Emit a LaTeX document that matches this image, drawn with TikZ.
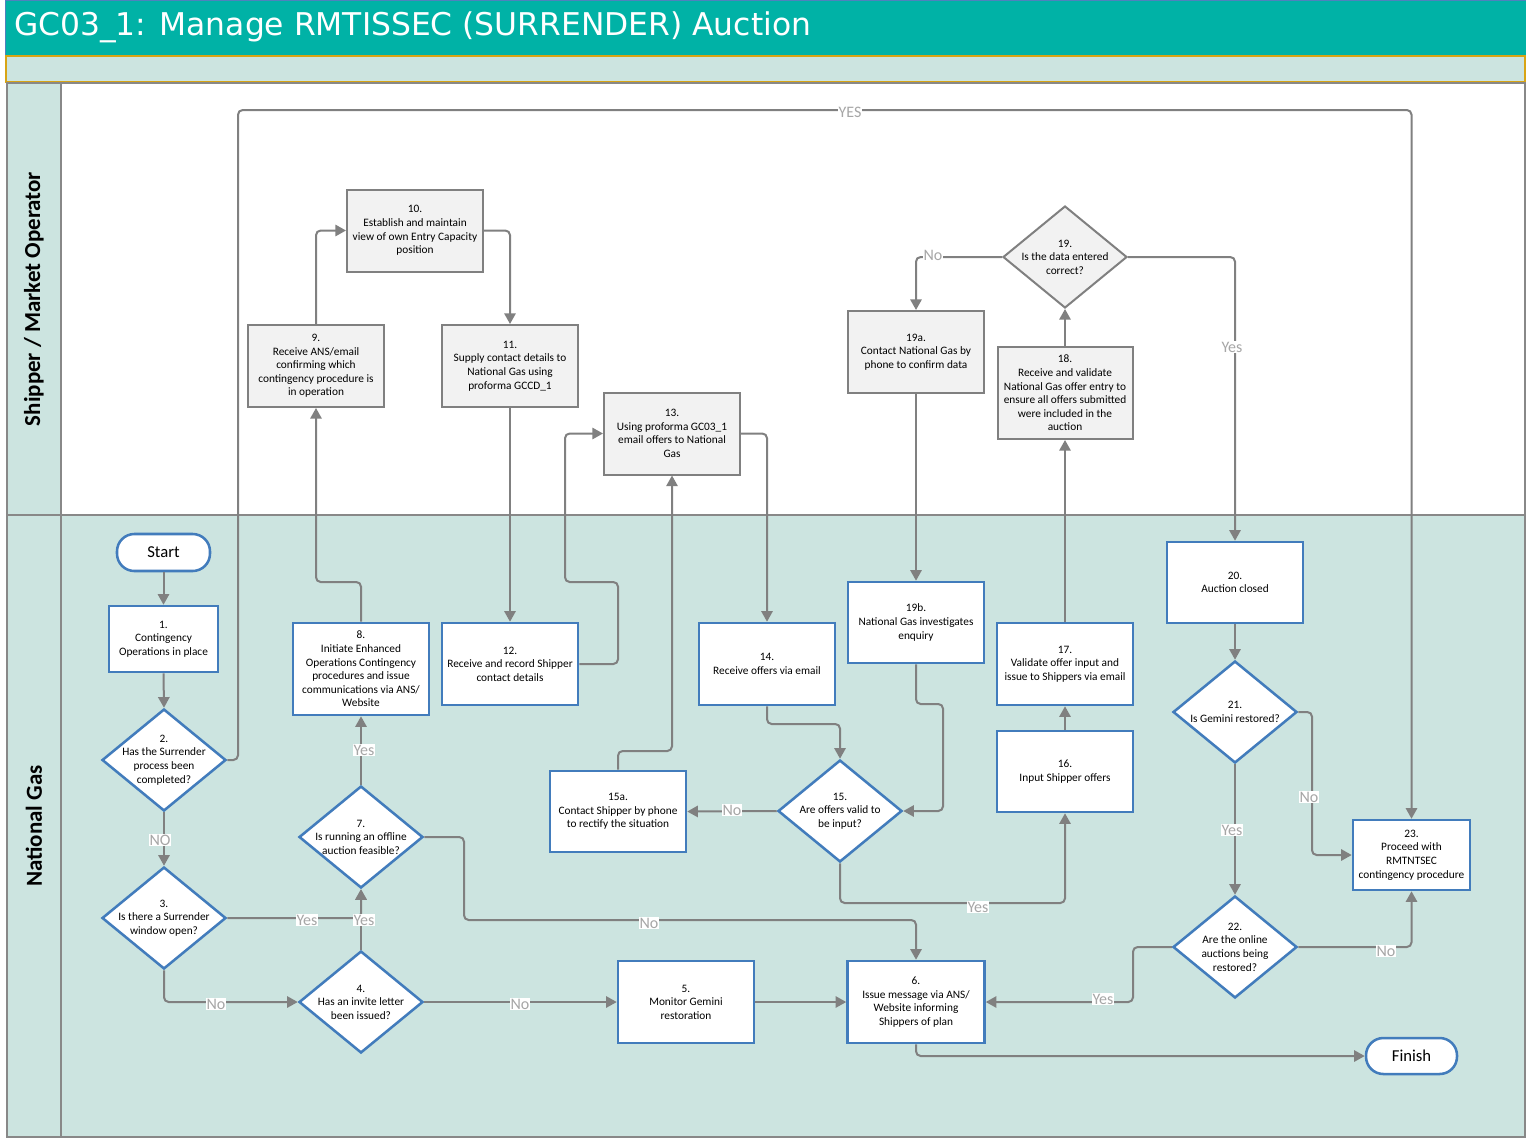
\documentclass[tikz,border=0pt]{standalone}
\usepackage{fontspec}
\setmainfont{Carlito}
\newfontfamily\titlefont{DejaVu Sans}
\usetikzlibrary{shapes.geometric,arrows.meta}
\definecolor{titleteal}{RGB}{0,178,166}
\definecolor{lightteal}{RGB}{204,228,224}
\definecolor{bandgold}{RGB}{216,164,20}
\definecolor{nblue}{RGB}{66,124,188}
\definecolor{lanegray}{RGB}{136,136,136}
\definecolor{linegray}{RGB}{128,128,128}
\definecolor{boxgray}{RGB}{242,242,242}
\definecolor{lblgray}{RGB}{166,166,166}
\definecolor{topblue}{RGB}{79,129,189}
\tikzset{
  txt/.style={font=\fontsize{8.5}{10.2}\selectfont, align=center},
  sbox/.style={txt, rectangle, draw=linegray, fill=boxgray, line width=1.5pt, inner sep=0pt, minimum width=102pt, minimum height=61.5pt},
  nbox/.style={txt, rectangle, draw=nblue, fill=white, line width=1.9pt, inner sep=0pt, minimum width=102pt, minimum height=61.5pt},
  ndia/.style={diamond, draw=nblue, fill=white, line width=1.9pt, inner sep=0pt, minimum width=93pt, minimum height=76.5pt},
  sdia/.style={diamond, draw=linegray, fill=boxgray, line width=1.5pt, inner sep=0pt, minimum width=93pt, minimum height=76.5pt},
  dtext/.style={txt, inner sep=0pt},
  term/.style={rectangle, rounded corners=13pt, draw=nblue, fill=white, line width=1.9pt, minimum width=69.75pt, minimum height=27.75pt, inner sep=0pt, font=\fontsize{12.5}{14}\selectfont},
  conn/.style={draw=linegray, line width=1.5pt, rounded corners=3.5pt, -{Triangle[length=8pt,width=8.5pt]}},
  lbl/.style={fill=white, text=lblgray, font=\fontsize{12}{13}\selectfont, inner sep=0.6pt},
  lanelbl/.style={rotate=90, font=\bfseries\fontsize{17.2}{20}\selectfont}
}
\begin{document}
\begin{tikzpicture}[x=0.75pt,y=-0.75pt]
\useasboundingbox (0,0) rectangle (1526,1139);
\fill[white] (0,0) rectangle (1526,1139);
% title bar
\fill[titleteal] (5,0) rectangle (1526,55);
\draw[topblue, line width=1pt] (5.5,55) -- (5.5,0.6) -- (1526,0.6);
\node[anchor=west, text=white, font=\titlefont\fontsize{23.5}{28}\selectfont, inner sep=0pt] (title) at (14,27) {GC03\_1: Manage RMTISSEC (SURRENDER) Auction};
% band
\filldraw[fill=lightteal, draw=bandgold, line width=1.5pt] (6,56) rectangle (1524.5,82);
% lanes
\fill[lightteal] (6,83) rectangle (61,1137);
\fill[white] (61,83) rectangle (1525,515);
\fill[lightteal] (61,515) rectangle (1525,1137);
\draw[lanegray, line width=1.5pt] (6.5,83) rectangle (1524.5,1137);
\draw[lanegray, line width=1.5pt] (61,83) -- (61,1137);
\draw[lanegray, line width=1.5pt] (6.5,515) -- (1524.5,515);
\node[lanelbl] (lane1) at (34,299) {Shipper / Market Operator};
\node[lanelbl] (lane2) at (34,826) {National Gas};

% Shipper lane nodes
\node[sbox] (n10) at (415,230.5) {10.\\Establish and maintain\\view of own Entry Capacity\\position};
\node[sbox] (n9) at (316,366) {9.\\Receive ANS/email\\confirming which\\contingency procedure is\\in operation};
\node[sbox] (n11) at (510,366) {11.\\Supply contact details to\\National Gas using\\proforma GCCD\_1};
\node[sbox] (n13) at (672,433.5) {13.\\Using proforma GC03\_1\\email offers to National\\Gas};
\node[sbox] (n19a) at (916,352) {19a.\\Contact National Gas by\\phone to confirm data};
\node[sdia] (n19) at (1065,257) {};
\node[dtext] (t19) at (n19) {19.\\Is the data entered\\correct?};
\node[sbox, minimum width=101.25pt, minimum height=69pt] (n18) at (1065,393) {18.\\Receive and validate\\National Gas offer entry to\\ensure all offers submitted\\were included in the\\auction};

% National Gas lane nodes
\node[term] (nstart) at (163.5,552.5) {Start};
\node[nbox, minimum width=81.75pt, minimum height=49.5pt] (n1) at (163.5,639) {1.\\Contingency\\Operations in place};
\node[ndia] (n2) at (164,760) {};
\node[dtext] (t2) at (n2) {2.\\Has the Surrender\\process been\\completed?};
\node[ndia] (n3) at (164,918) {};
\node[dtext] (t3) at (n3) {3.\\Is there a Surrender\\window open?};
\node[ndia] (n4) at (361,1002) {};
\node[dtext] (t4) at (n4) {4.\\Has an invite letter\\been issued?};
\node[ndia] (n7) at (361,837) {};
\node[dtext] (t7) at (n7) {7.\\Is running an offline\\auction feasible?};
\node[nbox, minimum height=69pt] (n8) at (361,669) {8.\\Initiate Enhanced\\Operations Contingency\\procedures and issue\\communications via ANS/\\Website};
\node[nbox] (n12) at (510,664) {12.\\Receive and record Shipper\\contact details};
\node[nbox] (n5) at (686,1002) {5.\\Monitor Gemini\\restoration};
\node[nbox, minimum width=102.75pt] (n6) at (916,1002) {6.\\Issue message via ANS/\\Website informing\\Shippers of plan};
\node[nbox] (n14) at (767,664) {14.\\Receive offers via email};
\node[nbox, minimum height=60.75pt] (n15a) at (618,811.5) {15a.\\Contact Shipper by phone\\to rectify the situation};
\node[ndia] (n15) at (840,811) {};
\node[dtext] (t15) at (n15) {15.\\Are offers valid to\\be input?};
\node[nbox, minimum height=60.75pt] (n19b) at (916,622.5) {19b.\\National Gas investigates\\enquiry};
\node[nbox] (n17) at (1065,664) {17.\\Validate offer input and\\issue to Shippers via email};
\node[nbox, minimum height=60.75pt] (n16) at (1065,771.5) {16.\\Input Shipper offers};
\node[nbox, minimum height=60.75pt] (n20) at (1235,582.5) {20.\\Auction closed};
\node[ndia] (n21) at (1235,712) {};
\node[dtext] (t21) at (n21) {21.\\Is Gemini restored?};
\node[ndia] (n22) at (1235,947) {};
\node[dtext] (t22) at (n22) {22.\\Are the online\\auctions being\\restored?};
\node[nbox, minimum width=87.75pt, minimum height=52.5pt] (n23) at (1411.5,855) {23.\\Proceed with\\RMTNTSEC\\contingency procedure};
\node[term, minimum width=68.25pt, minimum height=27pt] (nfin) at (1411.5,1056) {Finish};

% connectors
\draw[conn] (nstart.south) -- (n1.north);
\draw[conn] (n1.south) -- (n2.north);
\draw[conn] (n2.south) -- (n3.north);
\draw[conn] (n2.east) -| (238,110) -| (n23.north);
\draw[conn] (n3.east) -| (n7.south);
\draw[conn] (n4.north) -- (n7.south);
\draw[conn] (n3.south) |- (n4.west);
\draw[conn] (n4.east) -- (n5.west);
\draw[conn] (n5.east) -- (n6.west);
\draw[conn] (n7.north) -- (n8.south);
\draw[conn] (n7.east) -| (464,920) -| (n6.north);
\draw[conn] (n8.north) |- (340,582) -| (n9.south);
\draw[conn] (n9.north) |- (n10.west);
\draw[conn] (n10.east) -| (n11.north);
\draw[conn] (n11.south) -- (n12.north);
\draw[conn] (n12.east) -| (618,582) -| (565,433.5) -- (n13.west);
\draw[conn] (n13.east) -| (n14.north);
\draw[conn] (n14.south) |- (800,724) -| (n15.north);
\draw[conn] (n15.west) -- (n15a.east);
\draw[conn] (n15a.north) |- (640,751) -| (n13.south);
\draw[conn] (n15.south) |- (950,903) -| (n16.south);
\draw[conn] (n16.north) -- (n17.south);
\draw[conn] (n17.north) -- (n18.south);
\draw[conn] (n18.north) -- (n19.south);
\draw[conn] (n19.west) -| (n19a.north);
\draw[conn] (n19.east) -| (n20.north);
\draw[conn] (n19a.south) -- (n19b.north);
\draw[conn] (n19b.south) |- (930,704) -| (943,811) -- (n15.east);
\draw[conn] (n20.south) -- (n21.north);
\draw[conn] (n21.south) -- (n22.north);
\draw[conn] (n21.east) -| (1312,855) -- (n23.west);
\draw[conn] (n22.east) -| (n23.south);
\draw[conn] (n22.west) -| (1133,1002) -- (n6.east);
\draw[conn] (n6.south) |- (nfin.west);

% connector labels
\node[lbl] (l1) at (850,112) {YES};
\node[lbl] (l2) at (160,840) {NO};
\node[lbl] (l3) at (307,920) {Yes};
\node[lbl] (l4) at (364,920) {Yes};
\node[lbl] (l5) at (216,1004) {No};
\node[lbl] (l6) at (520,1004) {No};
\node[lbl] (l7) at (364,750) {Yes};
\node[lbl] (l8) at (649,923) {No};
\node[lbl] (l9) at (732,810) {No};
\node[lbl] (l10) at (978,907) {Yes};
\node[lbl] (l11) at (933,255) {No};
\node[lbl] (l12) at (1232,347) {Yes};
\node[lbl] (l13) at (1232,830) {Yes};
\node[lbl] (l14) at (1309,797) {No};
\node[lbl] (l15) at (1386,951) {No};
\node[lbl] (l16) at (1103,999) {Yes};
\end{tikzpicture}
\end{document}
